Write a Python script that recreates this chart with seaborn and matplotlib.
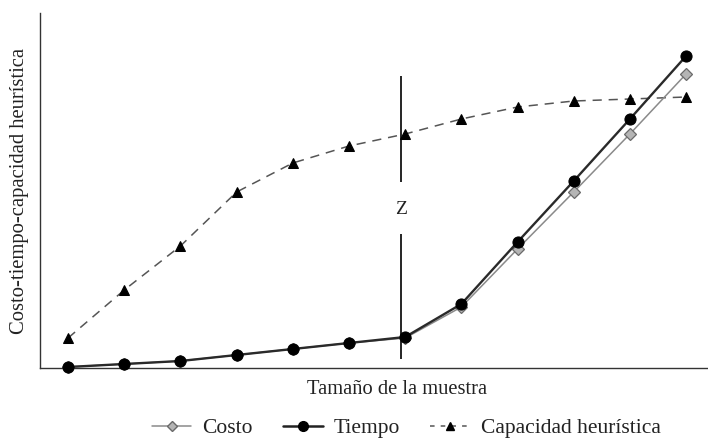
import matplotlib
matplotlib.use("Agg")
import matplotlib.pyplot as plt
import seaborn as sns
import pandas as pd
from matplotlib.lines import Line2D

# Data (arbitrary units)
muestra = [1, 2, 3, 4, 5, 6, 7, 8, 9, 10, 11, 12]
costo = [1, 4, 7, 13, 19, 25, 30, 61, 119, 176, 234, 294]
tiempo = [1, 4, 7, 13, 19, 25, 31, 64, 126, 187, 249, 312]
capacidad = [30, 78, 122, 176, 205, 222, 234, 249, 261, 267, 269, 271]
z_pos = 6.93

sns.set_theme(style="white")
plt.rcParams['font.family'] = ['Liberation Serif', 'DejaVu Serif']

fig = plt.figure(figsize=(7.08, 4.42), dpi=100)
ax = fig.add_axes([40/708, (442-368)/442, 1 - 40/708, (368-13)/442])

df = pd.DataFrame({"x": muestra, "costo": costo, "tiempo": tiempo, "cap": capacidad})

sns.lineplot(data=df, x="x", y="cap", ax=ax, color="#555555", linewidth=1.1,
             linestyle=(0, (6, 4.5)), marker="^", markersize=7.5,
             markerfacecolor="black", markeredgecolor="black", zorder=3)
sns.lineplot(data=df, x="x", y="costo", ax=ax, color="#8a8a8a", linewidth=1.1,
             marker="D", markersize=6, markerfacecolor="#b5b5b5",
             markeredgecolor="#6a6a6a", markeredgewidth=0.9, zorder=4)
sns.lineplot(data=df, x="x", y="tiempo", ax=ax, color="#2a2a2a", linewidth=1.7,
             marker="o", markersize=8, markerfacecolor="black",
             markeredgecolor="black", zorder=5)
for ln in ax.lines:
    ln.set_clip_on(False)

# Z marker line
ax.vlines(z_pos, 186, 292, color="black", linewidth=1.2)
ax.vlines(z_pos, 9, 134, color="black", linewidth=1.2)
ax.text(z_pos, 159, "Z", ha="center", va="center", fontsize=14, color="#222222")

ax.set_xlim(0.5, 12.39)
ax.set_ylim(0, 355)
ax.set_xticks([])
ax.set_yticks([])
ax.spines["top"].set_visible(False)
ax.spines["right"].set_visible(False)
for s in ("left", "bottom"):
    ax.spines[s].set_color("#333333")
    ax.spines[s].set_linewidth(1.0)

ax.set_xlabel("Tamaño de la muestra", fontsize=14.8, color="#222222")
ax.xaxis.set_label_coords((397 - 40) / 668, -0.035)
ax.set_ylabel("Costo-tiempo-capacidad heurística", fontsize=14.9, color="#222222", labelpad=8)

handles = [
    Line2D([], [], color="#8a8a8a", linewidth=1.1, marker="D", markersize=5,
           markerfacecolor="#b5b5b5", markeredgecolor="#6a6a6a"),
    Line2D([], [], color="#222222", linewidth=1.8, marker="o", markersize=7,
           markerfacecolor="black", markeredgecolor="black"),
    Line2D([], [], color="#555555", linewidth=1.1, linestyle=(0, (3, 4)),
           marker="^", markersize=6, markerfacecolor="black", markeredgecolor="black"),
]
fig.legend(handles, ["Costo", "Tiempo", "Capacidad heurística"], loc="center",
           bbox_to_anchor=(406/708, 1 - 428/442), ncol=3, frameon=False,
           fontsize=15.5, handlelength=1.85, handletextpad=0.5, columnspacing=1.4,
           labelcolor="#222222")

fig.savefig("out.png", dpi=100)
